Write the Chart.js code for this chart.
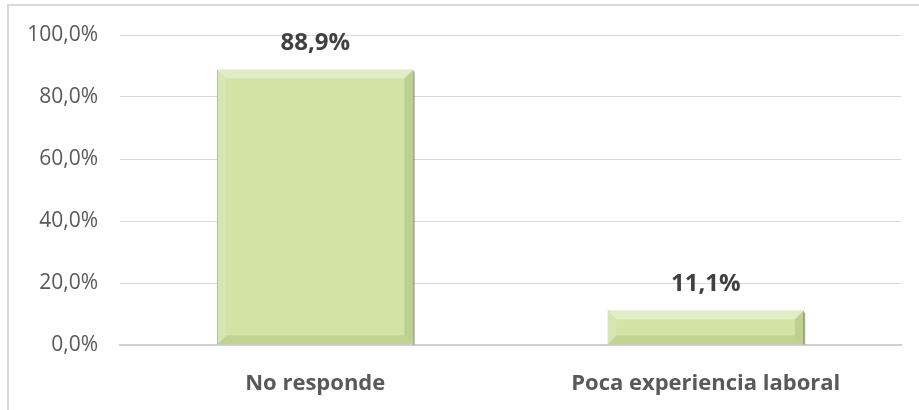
<!DOCTYPE html>
<html>
<head>
<meta charset="utf-8">
<script src="https://cdn.jsdelivr.net/npm/chart.js@4.4.0/dist/chart.umd.min.js"></script>
<style>
	html, body { margin: 0; padding: 0; background: #fff; }
	#wrap { position: relative; width: 919px; height: 410px; overflow: hidden; }
	#frame { position: absolute; left: 7px; top: 4px; width: 1000px; height: 1000px;
		border-left: 2px solid #d9d9d9; border-top: 2px solid #d9d9d9; }
	canvas { position: absolute; left: 0; top: 0; }
</style>
</head>
<body>
<div id="wrap">
	<div id="frame"></div>
	<canvas id="chart1" width="919" height="410"></canvas>
</div>
<script>
// datos
var categorias = ['No responde', 'Poca experiencia laboral'];
var valores = [88.9, 11.1];
var ejeMin = 0;
var ejeMax = 100;
var ejePaso = 20;

function fmt(v) {
	return v.toFixed(1).replace('.', ',') + '%';
}

var fuente = "'Open Sans', 'Liberation Sans', sans-serif";

// bisel y etiquetas de datos
var biselPlugin = {
	id: 'bisel',
	afterDatasetsDraw: function(chart) {
		var ctx = chart.ctx;
		var meta = chart.getDatasetMeta(0);
		meta.data.forEach(function(bar, i) {
			var l = bar.x - bar.width / 2;
			var r = bar.x + bar.width / 2;
			var t = bar.y;
			var b = bar.base;
			var s = 9;
			ctx.save();
			// arriba
			ctx.fillStyle = 'rgba(255,255,255,0.35)';
			ctx.beginPath();
			ctx.moveTo(l, t); ctx.lineTo(r, t); ctx.lineTo(r - s, t + s); ctx.lineTo(l + s, t + s);
			ctx.closePath(); ctx.fill();
			// izquierda
			ctx.fillStyle = 'rgba(255,255,255,0.12)';
			ctx.beginPath();
			ctx.moveTo(l, t); ctx.lineTo(l + s, t + s); ctx.lineTo(l + s, b - s); ctx.lineTo(l, b);
			ctx.closePath(); ctx.fill();
			// derecha
			ctx.fillStyle = 'rgba(90,110,40,0.16)';
			ctx.beginPath();
			ctx.moveTo(r, t); ctx.lineTo(r, b); ctx.lineTo(r - s, b - s); ctx.lineTo(r - s, t + s);
			ctx.closePath(); ctx.fill();
			// abajo
			ctx.fillStyle = 'rgba(90,110,40,0.14)';
			ctx.beginPath();
			ctx.moveTo(l, b); ctx.lineTo(r, b); ctx.lineTo(r - s, b - s); ctx.lineTo(l + s, b - s);
			ctx.closePath(); ctx.fill();
			// sombra
			ctx.strokeStyle = 'rgba(60,70,40,0.45)';
			ctx.lineWidth = 1.5;
			ctx.beginPath();
			ctx.moveTo(r + 0.5, t + 2); ctx.lineTo(r + 0.5, b);
			ctx.stroke();
			// etiqueta
			ctx.fillStyle = '#404040';
			ctx.font = 'bold 24px ' + fuente;
			ctx.textAlign = 'center';
			ctx.textBaseline = 'middle';
			ctx.fillText(fmt(valores[i]), bar.x, t - 26);
			ctx.restore();
		});
	}
};

var config1 = {
	type: 'bar',
	data: {
		labels: categorias,
		datasets: [{
			data: valores,
			backgroundColor: '#d1e3a5',
			borderColor: '#a9bb7a',
			borderWidth: 1,
			categoryPercentage: 1,
			barPercentage: 0.503
		}]
	},
	options: {
		responsive: false,
		animation: false,
		layout: {
			padding: { left: 0, right: 18, top: 35, bottom: 0 }
		},
		plugins: {
			legend: { display: false },
			tooltip: { enabled: false }
		},
		scales: {
			x: {
				grid: { display: false },
				border: { color: '#d0d0d0', width: 2 },
				ticks: {
					color: '#595959',
					padding: 18,
					font: { family: fuente, size: 22, weight: 'bold' }
				},
				afterFit: function(axis) { axis.height = 65; }
			},
			y: {
				min: ejeMin,
				max: ejeMax,
				ticks: {
					stepSize: ejePaso,
					color: '#595959',
					padding: 22,
					font: { family: fuente, size: 21 },
					callback: function(v) { return fmt(v); }
				},
				grid: { color: '#d9d9d9', lineWidth: 1, drawTicks: false },
				border: { display: false },
				afterFit: function(axis) { axis.width = 120; }
			}
		}
	},
	plugins: [biselPlugin]
};

var chart1 = new Chart(document.getElementById('chart1'), config1);
</script>
</body>
</html>
